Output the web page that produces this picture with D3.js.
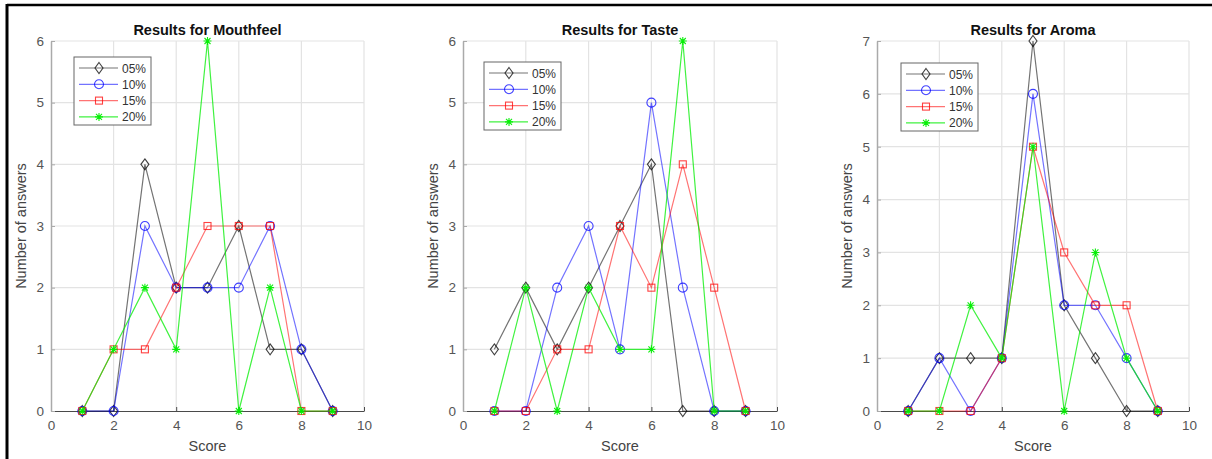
<!DOCTYPE html>
<html>
  <head>
    <meta charset="utf-8" />
    <title>Results</title>
    <script src="https://d3js.org/d3.v7.min.js"></script>
    <style>
      body { margin: 0; background: white; }
      svg text { font-family: "Liberation Sans", Arial, Helvetica, sans-serif; }
    </style>
  </head>
  <body>
    <svg id="viz"></svg>
    <script>

    // data
    var scores = [1, 2, 3, 4, 5, 6, 7, 8, 9];
    var seriesNames = ["05%", "10%", "15%", "20%"];
    var xTicks = [0, 2, 4, 6, 8, 10];

    // one row per series, in seriesNames order
    var mouthfeel = [
      [0, 0, 4, 2, 2, 3, 1, 1, 0],
      [0, 0, 3, 2, 2, 2, 3, 1, 0],
      [0, 1, 1, 2, 3, 3, 3, 0, 0],
      [0, 1, 2, 1, 6, 0, 2, 0, 0]
    ];
    var taste = [
      [1, 2, 1, 2, 3, 4, 0, 0, 0],
      [0, 0, 2, 3, 1, 5, 2, 0, 0],
      [0, 0, 1, 1, 3, 2, 4, 2, 0],
      [0, 2, 0, 2, 1, 1, 6, 0, 0]
    ];
    var aroma = [
      [0, 1, 1, 1, 7, 2, 1, 0, 0],
      [0, 1, 0, 1, 6, 2, 2, 1, 0],
      [0, 0, 0, 1, 5, 3, 2, 2, 0],
      [0, 0, 2, 1, 5, 0, 3, 1, 0]
    ];

    var width = 1212, height = 459;
    var colors = ["#000000", "#0000ff", "#ff0000", "#00ee00"];
    var opac = [0.55, 0.55, 0.55, 0.75];
    var markers = ["diamond", "circle", "square", "star"];

    var panels = [
      { title: "Results for Mouthfeel", data: mouthfeel, yMax: 6, left: 51, right: 364, lx: 74, ly: 57 },
      { title: "Results for Taste", data: taste, yMax: 6, left: 463, right: 777, lx: 484, ly: 62 },
      { title: "Results for Aroma", data: aroma, yMax: 7, left: 877, right: 1189, lx: 901, ly: 63 }
    ];
    var plotTop = 41, plotBottom = 411;

    var svg = d3.select("#viz")
      .attr("width", width)
      .attr("height", height);

    // frame around the screenshot
    svg.append("line").attr("x1", 7).attr("x2", width).attr("y1", 5).attr("y2", 5)
      .attr("stroke", "#000").attr("stroke-width", 2.5);
    svg.append("line").attr("x1", 7).attr("x2", 7).attr("y1", 4).attr("y2", height)
      .attr("stroke", "#000").attr("stroke-width", 3);

    // draw a marker at (0,0) in group g
    function drawMarker(g, type, color, op) {
      if (type == "diamond") {
        g.append("path").attr("d", "M0,-5.5L4,0L0,5.5L-4,0Z")
          .attr("fill", "none").attr("stroke", color).attr("stroke-opacity", op).attr("stroke-width", 1.1);
      } else if (type == "circle") {
        g.append("circle").attr("r", 4.5)
          .attr("fill", "none").attr("stroke", color).attr("stroke-opacity", op).attr("stroke-width", 1.1);
      } else if (type == "square") {
        g.append("rect").attr("x", -3.5).attr("y", -3.5).attr("width", 7).attr("height", 7)
          .attr("fill", "none").attr("stroke", color).attr("stroke-opacity", op).attr("stroke-width", 1.1);
      } else {
        g.append("path").attr("d", "M-4,0L4,0M0,-4L0,4M-3,-3L3,3M-3,3L3,-3")
          .attr("fill", "none").attr("stroke", color).attr("stroke-opacity", op).attr("stroke-width", 1.1);
      }
    }

    panels.forEach(function(p) {
      var x = d3.scaleLinear().domain([0, 10]).range([p.left, p.right]);
      var y = d3.scaleLinear().domain([0, p.yMax]).range([plotBottom, plotTop]);
      var g = svg.append("g");

      // grid
      g.selectAll(".gx").data(xTicks.slice(1)).enter().append("line")
        .attr("x1", function(d) { return x(d); }).attr("x2", function(d) { return x(d); })
        .attr("y1", plotTop).attr("y2", plotBottom)
        .attr("stroke", "#e3e3e3").attr("stroke-width", 1.2);
      g.selectAll(".gy").data(d3.range(1, p.yMax + 1)).enter().append("line")
        .attr("x1", p.left).attr("x2", p.right)
        .attr("y1", function(d) { return y(d); }).attr("y2", function(d) { return y(d); })
        .attr("stroke", "#e3e3e3").attr("stroke-width", 1.2);

      // axes
      var xAxis = d3.axisBottom(x).tickValues(xTicks).tickSizeInner(-4).tickSizeOuter(0).tickPadding(9);
      var yAxis = d3.axisLeft(y).ticks(p.yMax).tickSizeInner(-4).tickSizeOuter(0).tickPadding(7);

      var ax = g.append("g").attr("transform", "translate(0," + plotBottom + ")").call(xAxis);
      ax.select(".domain").attr("stroke", "#4a4a4a").attr("stroke-width", 1.2);
      ax.selectAll(".tick line").attr("stroke", "#4a4a4a");
      ax.selectAll("text").attr("font-size", 13.5).attr("fill", "#555")
        .attr("font-family", "Liberation Sans, Arial, sans-serif");

      var ay = g.append("g").attr("transform", "translate(" + p.left + ",0)").call(yAxis);
      ay.select(".domain").attr("stroke", "#aaa").attr("stroke-width", 1.5);
      ay.selectAll(".tick line").attr("stroke", "#aaa");
      ay.selectAll("text").attr("font-size", 13.5).attr("fill", "#555")
        .attr("font-family", "Liberation Sans, Arial, sans-serif");

      // labels
      var cx = (p.left + p.right) / 2;
      g.append("text").attr("x", cx).attr("y", 35).attr("text-anchor", "middle")
        .attr("font-size", 14.5).attr("font-weight", "bold").attr("fill", "#111")
        .text(p.title);
      g.append("text").attr("x", cx).attr("y", 451).attr("text-anchor", "middle")
        .attr("font-size", 14.5).attr("fill", "#444").text("Score");
      g.append("text")
        .attr("transform", "translate(" + (p.left - 25) + "," + ((plotTop + plotBottom) / 2) + ") rotate(-90)")
        .attr("text-anchor", "middle")
        .attr("font-size", 14.5).attr("fill", "#444").text("Number of answers");

      // series
      var line = d3.line()
        .x(function(d, i) { return x(scores[i]); })
        .y(function(d) { return y(d); });

      p.data.forEach(function(vals, s) {
        g.append("path").datum(vals).attr("d", line)
          .attr("fill", "none").attr("stroke", colors[s])
          .attr("stroke-opacity", opac[s]).attr("stroke-width", 1.2);
        vals.forEach(function(v, i) {
          var m = g.append("g").attr("transform", "translate(" + x(scores[i]) + "," + y(v) + ")");
          drawMarker(m, markers[s], colors[s], opac[s] + 0.2);
        });
      });

      // legend
      var lg = g.append("g").attr("transform", "translate(" + p.lx + "," + p.ly + ")");
      lg.append("rect").attr("width", 77).attr("height", 68)
        .attr("fill", "white").attr("stroke", "#666").attr("stroke-width", 1);
      seriesNames.forEach(function(name, s) {
        var ry = 11 + s * 16.3;
        lg.append("line").attr("x1", 5).attr("x2", 44).attr("y1", ry).attr("y2", ry)
          .attr("stroke", colors[s]).attr("stroke-opacity", opac[s]).attr("stroke-width", 1.2);
        var m = lg.append("g").attr("transform", "translate(25," + ry + ")");
        drawMarker(m, markers[s], colors[s], opac[s] + 0.2);
        lg.append("text").attr("x", 48).attr("y", ry + 4.5)
          .attr("font-size", 12).attr("fill", "#333").text(name);
      });
    });

    </script>
  </body>
</html>
